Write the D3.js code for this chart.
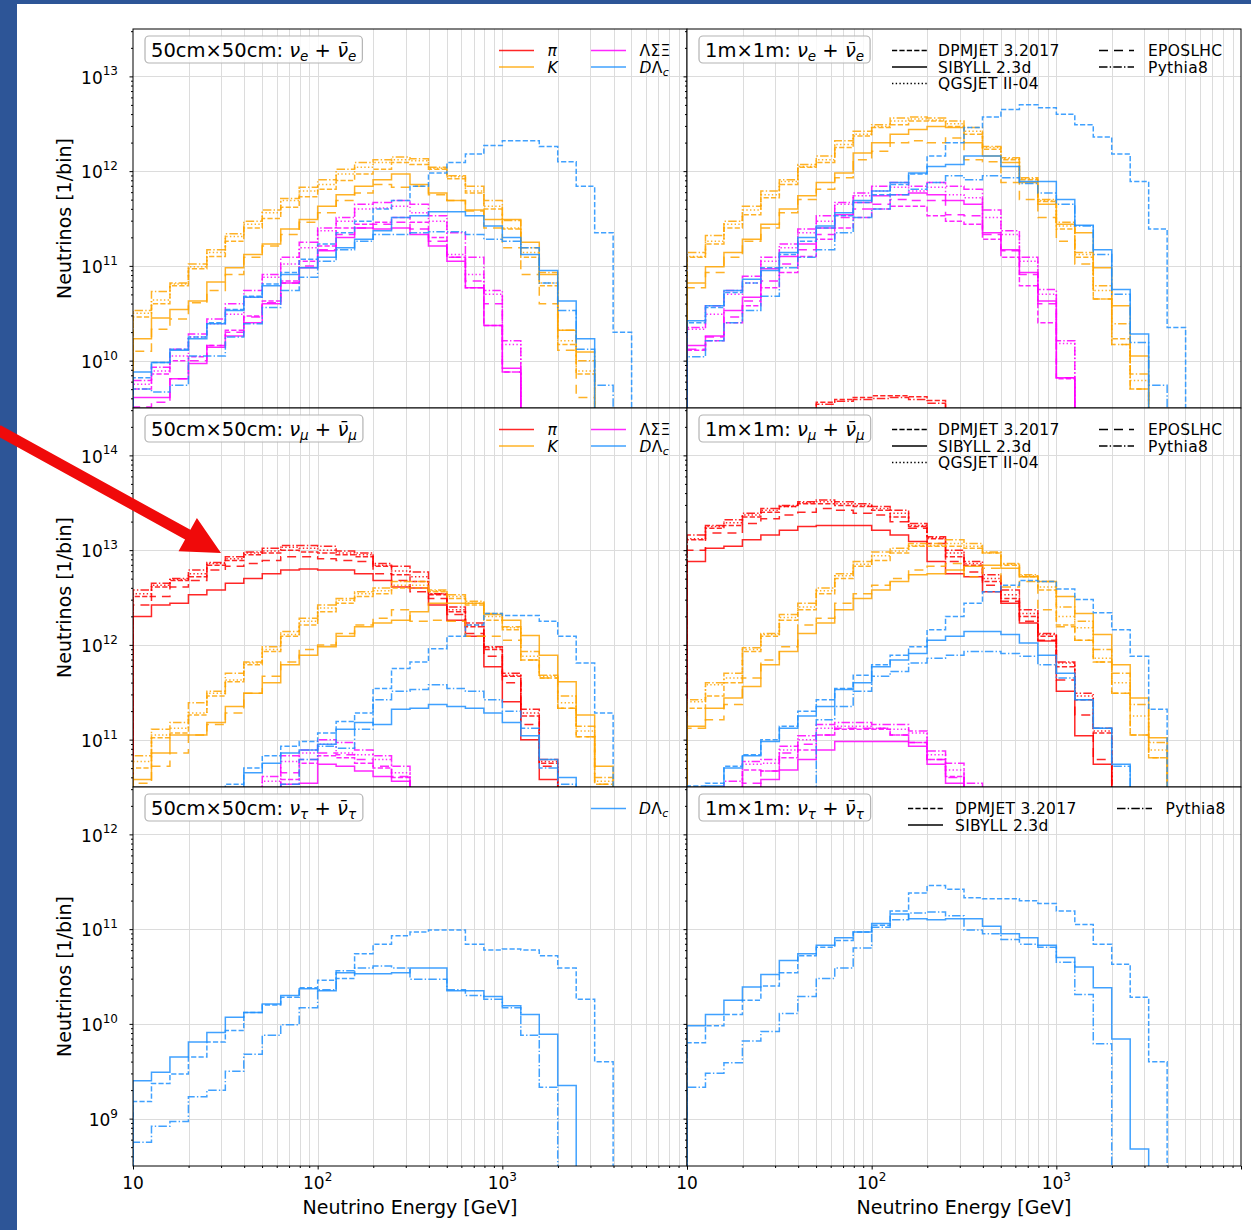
<!DOCTYPE html>
<html><head><meta charset="utf-8">
<script src="https://cdn.jsdelivr.net/npm/d3@7"></script>
<style>
body{margin:0;background:#fff}
svg{display:block}
text{font-family:'DejaVu Sans',sans-serif;fill:#000}
</style>
</head><body>
<svg id="chart" width="1251" height="1230"></svg>
<script>
// ===== DATA: log10(neutrinos per bin), 10 bins per decade starting at 10 GeV; null = empty bin =====
const generators = ['DPMJET 3.2017','SIBYLL 2.3d','QGSJET II-04','EPOSLHC','Pythia8'];
const species = ['π','K','ΛΣΞ','DΛc'];
const xTickLabels = ['10','10^2','10^3'];
const yTickExps = [[10,11,12,13],[11,12,13,14],[9,10,11,12]];

// --- 50cm x 50cm, nu_e ---
const nuE50_K_DPM  = [10.46,10.60,10.79,10.97,11.10,11.26,11.40,11.50,11.62,11.73,11.81,11.90,11.97,12.02,12.09,12.07,12.02,11.92,11.77,11.60,11.39,11.09,10.79,10.17,9.86];
const nuE50_K_SIB  = [10.23,10.45,10.54,10.63,10.83,10.98,11.12,11.23,11.39,11.49,11.63,11.75,11.84,11.91,11.97,11.86,11.77,11.69,11.59,11.49,11.49,11.25,10.91,10.32,10.09];
const nuE50_K_QGS  = [10.50,10.64,10.81,10.99,11.14,11.31,11.44,11.56,11.69,11.79,11.86,11.97,12.04,12.09,12.12,12.11,12.03,11.94,11.79,11.63,11.40,11.14,10.82,10.21,9.89];
const nuE50_K_EPOS = [10.10,10.33,10.44,10.61,10.74,10.91,11.09,11.21,11.33,11.46,11.56,11.69,11.77,11.86,11.83,11.84,11.75,11.69,11.58,11.40,11.19,10.91,10.60,10.11,9.61];
const nuE50_K_P8   = [10.53,10.73,10.82,11.02,11.17,11.34,11.47,11.59,11.71,11.83,11.91,12.02,12.09,12.12,12.15,12.13,12.04,11.95,11.84,11.69,11.48,11.19,10.93,10.32,10.00];
const nuE50_H_DPM  = [9.70,9.86,10.00,10.04,10.16,10.32,10.47,10.63,10.84,11.05,11.21,11.40,11.44,11.46,11.51,11.46,11.30,11.09,10.77,10.37,9.88];
const nuE50_H_SIB  = [9.61,9.61,9.81,9.97,10.14,10.26,10.40,10.60,10.82,10.98,11.16,11.30,11.40,11.39,11.40,11.33,11.21,11.05,10.77,10.37,9.92];
const nuE50_H_QGS  = [9.75,9.89,10.05,10.25,10.39,10.49,10.67,10.88,11.02,11.19,11.37,11.47,11.60,11.61,11.63,11.56,11.47,11.12,10.91,10.70,10.17];
const nuE50_H_EPOS = [9.51,9.56,9.81,10.00,10.16,10.30,10.46,10.61,10.82,11.00,11.17,11.33,11.40,11.44,11.46,11.39,11.26,11.09,10.84,10.60,9.88];
const nuE50_H_P8   = [9.79,9.93,10.12,10.28,10.44,10.60,10.74,10.91,11.09,11.25,11.40,11.51,11.65,11.67,11.69,11.65,11.53,11.35,11.09,10.74,10.21];
const nuE50_C_DPM  = [9.82,9.98,10.12,10.25,10.40,10.54,10.68,10.81,10.93,11.07,11.23,11.35,11.47,11.60,11.69,11.84,11.98,12.09,12.18,12.27,12.32,12.32,12.26,12.10,11.84,11.35,10.30];
const nuE50_C_SIB  = [9.88,9.98,10.11,10.23,10.39,10.53,10.67,10.79,10.91,10.98,11.09,11.19,11.28,11.37,11.51,11.53,11.57,11.57,11.53,11.42,11.30,11.12,10.95,10.63,10.23];
const nuE50_C_P8   = [9.70,9.67,9.74,10.05,10.05,10.25,10.39,10.56,10.74,10.88,11.05,11.17,11.26,11.33,11.33,11.35,11.36,11.36,11.33,11.28,11.26,11.19,10.82,10.53,10.12,9.74];

// --- 1m x 1m, nu_e ---
const nuE100_pi_DPM = [null,null,null,null,null,null,null,9.56,9.59,9.61,9.63,9.63,9.62,9.58];
const nuE100_pi_P8  = [null,null,null,null,null,null,null,9.54,9.57,9.59,9.60,9.61,9.59,9.55];
const nuE100_K_DPM  = [11.09,11.23,11.40,11.54,11.72,11.86,12.04,12.09,12.25,12.37,12.46,12.49,12.53,12.53,12.47,12.39,12.23,12.12,11.91,11.68,11.39,11.09,10.65,10.23,9.70];
const nuE100_K_SIB  = [10.82,10.99,11.14,11.28,11.44,11.60,11.74,11.88,11.98,12.19,12.30,12.39,12.44,12.47,12.46,12.30,12.16,12.09,11.88,11.65,11.44,11.35,10.98,10.58,10.05];
const nuE100_K_QGS  = [11.10,11.26,11.44,11.59,11.75,11.89,12.05,12.12,12.28,12.39,12.47,12.53,12.55,12.54,12.50,12.42,12.25,12.13,11.92,11.69,11.42,11.12,10.74,10.17,9.79];
const nuE100_K_EPOS = [10.77,10.93,11.09,11.26,11.40,11.56,11.70,11.81,11.93,12.12,12.21,12.30,12.32,12.30,12.35,12.12,12.10,11.88,11.70,11.51,11.26,11.02,10.65,10.17,9.70];
const nuE100_K_P8   = [11.14,11.32,11.47,11.63,11.79,11.91,12.07,12.16,12.32,12.42,12.49,12.56,12.57,12.56,12.53,12.46,12.26,12.14,11.93,11.70,11.46,11.14,10.79,10.39,9.86];
const nuE100_H_DPM  = [10.11,10.21,10.40,10.58,10.77,10.93,11.10,11.28,11.40,11.51,11.60,11.63,11.63,11.53,11.47,11.44,11.28,11.09,10.79,10.40,9.81];
const nuE100_H_SIB  = [10.16,10.26,10.53,10.67,10.97,11.10,11.23,11.40,11.54,11.67,11.74,11.75,11.77,11.75,11.69,11.65,11.35,11.17,10.93,10.63,9.82];
const nuE100_H_QGS  = [10.33,10.49,10.70,10.82,11.05,11.19,11.35,11.47,11.65,11.74,11.79,11.83,11.79,11.83,11.75,11.72,11.51,11.33,11.05,10.70,10.18];
const nuE100_H_EPOS = [10.12,10.25,10.46,10.63,10.84,11.02,11.17,11.33,11.51,11.60,11.65,11.70,11.69,11.69,11.54,11.53,11.33,11.16,10.91,10.60,9.82];
const nuE100_H_P8   = [10.35,10.58,10.74,10.89,11.09,11.23,11.39,11.53,11.67,11.77,11.84,11.88,11.84,11.88,11.84,11.81,11.59,11.37,11.09,10.75,10.21];
const nuE100_C_DPM  = [10.40,10.56,10.72,10.82,10.98,11.12,11.26,11.40,11.53,11.67,11.75,11.86,11.97,12.16,12.30,12.46,12.57,12.65,12.70,12.67,12.60,12.49,12.36,12.18,11.89,11.39,10.35];
const nuE100_C_SIB  = [10.42,10.58,10.74,10.86,10.95,11.14,11.30,11.42,11.56,11.69,11.79,11.88,11.98,12.05,12.07,12.16,12.16,12.05,11.89,11.89,11.70,11.43,11.17,10.75,10.28];
const nuE100_C_P8   = [10.04,10.21,10.40,10.53,10.68,10.98,11.09,11.17,11.35,11.51,11.60,11.75,11.81,11.88,11.95,11.91,11.95,11.93,11.87,11.77,11.65,11.42,11.12,10.70,10.19,9.74];

// --- 50cm x 50cm, nu_mu ---
const nuMu50_pi_DPM  = [12.51,12.61,12.68,12.72,12.84,12.89,12.95,12.97,13.00,12.98,12.97,12.95,12.93,12.83,12.74,12.67,12.53,12.35,12.19,11.95,11.67,11.25,10.75];
const nuMu50_pi_SIB  = [12.30,12.42,12.44,12.53,12.58,12.65,12.70,12.75,12.79,12.80,12.79,12.79,12.75,12.68,12.61,12.60,12.42,12.26,12.09,11.77,11.40,11.00,10.58];
const nuMu50_pi_QGS  = [12.54,12.63,12.69,12.75,12.86,12.91,12.97,12.99,13.03,13.02,13.00,12.97,12.95,12.84,12.78,12.72,12.54,12.37,12.21,11.97,11.68,11.28,10.77];
const nuMu50_pi_EPOS = [12.42,12.51,12.61,12.68,12.79,12.83,12.86,12.89,12.93,12.93,12.91,12.89,12.88,12.75,12.68,12.56,12.49,12.32,12.12,11.88,11.60,11.16,10.72];
const nuMu50_pi_P8   = [12.58,12.65,12.70,12.79,12.87,12.93,12.98,13.02,13.05,13.05,13.04,12.99,12.97,12.86,12.83,12.77,12.54,12.40,12.23,11.98,11.70,11.32,10.79];
const nuMu50_K_DPM  = [10.70,11.02,11.07,11.26,11.46,11.61,11.79,11.93,12.09,12.21,12.35,12.44,12.51,12.54,12.60,12.60,12.56,12.49,12.42,12.26,12.16,11.84,11.65,11.33,11.03,10.53];
const nuMu50_K_SIB  = [10.58,10.86,11.05,11.05,11.18,11.35,11.49,11.60,11.79,11.89,11.98,12.09,12.19,12.23,12.26,12.35,12.44,12.44,12.44,12.32,12.26,12.10,11.89,11.61,11.26,10.72];
const nuMu50_K_QGS  = [10.77,11.05,11.12,11.28,11.49,11.63,11.81,11.95,12.11,12.25,12.39,12.47,12.54,12.57,12.63,12.63,12.57,12.51,12.44,12.30,12.18,11.88,11.67,11.39,11.09,10.56];
const nuMu50_K_EPOS = [10.54,10.72,10.86,11.05,11.16,11.28,11.49,11.67,11.82,11.95,12.00,12.12,12.21,12.28,12.37,12.25,12.26,12.25,12.09,12.09,12.05,11.84,11.65,11.33,11.03,10.53];
const nuMu50_K_P8   = [10.83,11.11,11.18,11.39,11.51,11.70,11.82,11.98,12.14,12.28,12.42,12.49,12.56,12.60,12.67,12.67,12.58,12.53,12.46,12.33,12.19,11.93,11.68,11.46,11.14,10.60];
const nuMu50_H_DPM  = [null,null,null,null,null,null,null,null,10.58,10.75,10.83,10.81,10.75,10.70,10.60];
const nuMu50_H_SIB  = [null,null,null,null,null,null,null,null,10.53,10.54,10.74,10.72,10.67,10.61,10.56];
const nuMu50_H_QGS  = [null,null,null,null,null,null,null,10.56,10.77,10.86,10.95,10.86,10.84,10.79,10.65];
const nuMu50_H_EPOS = [null,null,null,null,null,null,null,null,10.65,10.79,10.86,10.84,10.79,10.72,10.61];
const nuMu50_H_P8   = [null,null,null,null,null,null,null,10.61,10.83,10.89,11.00,10.97,10.89,10.83,10.72];
const nuMu50_C_DPM  = [null,null,null,null,null,10.53,10.70,10.83,10.93,10.98,11.07,11.19,11.28,11.54,11.75,11.82,11.96,12.09,12.21,12.33,12.31,12.31,12.25,12.09,11.81,11.28];
const nuMu50_C_SIB  = [null,null,null,null,null,null,10.65,10.75,10.86,10.89,10.95,11.11,11.18,11.16,11.32,11.33,11.37,11.35,11.33,11.28,11.18,11.04,10.79,10.60];
const nuMu50_C_P8   = [null,null,null,null,null,null,null,null,10.53,10.79,10.93,10.91,11.11,11.42,11.51,11.53,11.58,11.54,11.51,11.42,11.30,11.12,10.70,10.53];

// --- 1m x 1m, nu_mu ---
const nuMu100_pi_DPM  = [13.11,13.23,13.26,13.35,13.40,13.46,13.49,13.49,13.47,13.46,13.42,13.35,13.25,13.12,12.93,12.84,12.67,12.49,12.30,12.09,11.77,11.42,11.07];
const nuMu100_pi_SIB  = [12.88,13.02,13.04,13.11,13.16,13.21,13.25,13.26,13.26,13.26,13.21,13.16,13.09,12.88,12.75,12.72,12.56,12.44,12.23,12.04,11.51,11.04,10.74];
const nuMu100_pi_QGS  = [13.12,13.25,13.29,13.37,13.42,13.46,13.50,13.51,13.49,13.47,13.44,13.39,13.26,13.13,12.97,12.86,12.70,12.53,12.33,12.11,11.81,11.46,11.09];
const nuMu100_pi_EPOS = [13.00,13.18,13.18,13.28,13.33,13.37,13.40,13.44,13.42,13.39,13.37,13.30,13.23,13.07,12.88,12.77,12.63,12.46,12.25,12.05,11.63,11.26,10.79];
const nuMu100_pi_P8   = [13.16,13.26,13.32,13.39,13.44,13.47,13.51,13.53,13.51,13.49,13.46,13.42,13.28,13.14,13.00,12.88,12.74,12.58,12.37,12.12,11.82,11.49,11.12];
const nuMu100_K_DPM  = [11.33,11.46,11.60,11.93,12.09,12.26,12.37,12.54,12.70,12.83,12.89,12.97,13.04,13.04,13.04,13.02,12.97,12.84,12.72,12.58,12.21,12.05,11.82,11.49,11.05,10.81];
const nuMu100_K_SIB  = [11.14,11.33,11.44,11.56,11.79,11.93,12.12,12.23,12.37,12.49,12.58,12.67,12.74,12.75,12.79,12.83,12.84,12.81,12.72,12.67,12.51,12.33,12.11,11.79,11.44,11.02];
const nuMu100_K_QGS  = [11.40,11.58,11.65,11.95,12.11,12.29,12.40,12.57,12.73,12.85,12.94,12.99,13.05,13.05,13.07,13.04,12.97,12.85,12.73,12.61,12.30,12.18,11.86,11.60,11.25,10.89];
const nuMu100_K_EPOS = [11.12,11.21,11.37,11.65,11.84,11.98,12.21,12.28,12.44,12.54,12.63,12.70,12.79,12.83,12.86,12.72,12.81,12.61,12.67,12.37,12.19,12.05,11.82,11.49,11.05,10.81];
const nuMu100_K_P8   = [11.42,11.60,11.70,11.97,12.12,12.32,12.44,12.60,12.75,12.88,12.98,13.02,13.07,13.07,13.11,13.07,12.98,12.86,12.74,12.67,12.40,12.25,11.95,11.70,11.37,10.97];
const nuMu100_H_DPM  = [null,null,null,10.68,10.67,10.81,10.89,11.05,11.11,11.11,11.11,11.05,10.97,10.79,10.61];
const nuMu100_H_SIB  = [null,null,null,null,10.58,10.68,10.79,10.89,10.98,10.98,10.98,10.98,10.93,10.74,10.54];
const nuMu100_H_QGS  = [null,null,null,10.74,10.75,10.89,11.00,11.12,11.14,11.14,11.12,11.11,11.07,10.84,10.68];
const nuMu100_H_EPOS = [null,null,null,10.54,10.67,10.86,10.95,11.05,11.12,11.12,11.12,11.05,10.97,10.79,10.60];
const nuMu100_H_P8   = [null,null,10.56,10.77,10.79,10.93,11.04,11.16,11.18,11.18,11.16,11.16,11.09,10.88,10.75,10.54];
const nuMu100_C_DPM  = [10.51,10.54,10.72,10.84,11.00,11.14,11.30,11.42,11.54,11.68,11.79,11.89,11.98,12.16,12.30,12.44,12.56,12.63,12.68,12.67,12.59,12.48,12.34,12.16,11.88,11.32];
const nuMu100_C_SIB  = [null,10.51,10.70,10.83,10.98,11.12,11.25,11.35,11.53,11.60,11.77,11.84,11.91,12.05,12.09,12.14,12.14,12.11,12.02,11.89,11.70,11.42,11.12,10.74];
const nuMu100_C_P8   = [null,null,null,null,null,null,null,11.21,11.35,11.51,11.67,11.72,11.81,11.86,11.89,11.93,11.93,11.91,11.88,11.79,11.65,11.42,11.12,10.72];

// --- nu_tau (charm only) ---
const nuTau50_C_DPM  = [9.18,9.37,9.47,9.65,9.81,9.93,10.12,10.20,10.28,10.38,10.46,10.48,10.74,10.84,10.93,10.97,10.99,10.99,10.84,10.78,10.79,10.78,10.72,10.59,10.26,9.60];
const nuTau50_C_SIB  = [9.40,9.49,9.65,9.81,9.91,10.07,10.12,10.21,10.30,10.37,10.35,10.54,10.53,10.53,10.54,10.59,10.59,10.35,10.35,10.29,10.19,10.10,9.89,9.35];
const nuTau50_C_P8   = [8.75,8.92,8.97,9.23,9.30,9.50,9.68,9.88,9.99,10.17,10.36,10.56,10.59,10.61,10.59,10.47,10.47,10.36,10.30,10.26,10.17,9.88,9.33];
const nuTau100_C_DPM = [9.80,9.98,10.10,10.25,10.40,10.54,10.72,10.81,10.88,10.97,11.04,11.19,11.38,11.46,11.42,11.33,11.32,11.32,11.30,11.27,11.19,11.05,10.84,10.63,10.28,9.60];
const nuTau100_C_SIB = [9.98,10.10,10.25,10.39,10.52,10.67,10.74,10.83,10.91,10.97,11.06,11.16,11.11,11.10,11.11,11.11,11.03,10.95,10.91,10.83,10.70,10.60,10.38,9.84,8.68];
const nuTau100_C_P8  = [9.33,9.48,9.59,9.82,9.92,10.11,10.29,10.48,10.59,10.80,11.02,11.10,11.17,11.18,11.14,10.99,10.95,10.89,10.84,10.81,10.65,10.31,9.79];

// ===== STYLE / LAYOUT =====
const colX = [133, 687], PW = 554;
const rowY = [29, 408, 787], PH = 379;
const yDomains = [[10**9.5, 10**13.5], [10**10.5, 10**14.5], [10**8.5, 10**12.5]];
const binEdges = d3.range(31).map(k => 10 ** (1 + k / 10));
const color = {pi:'#ff0000', K:'#ffa500', H:'#ff00ff', C:'#1e90ff'};
const dash = {DPM:'5.2,2.2', SIB:null, QGS:'1.4,2.3', EPOS:'9,6', P8:'8.5,2.2,1.4,2.2'};
const genKey = ['DPM','SIB','QGS','EPOS','P8'];

const panels = [
  {row:0,col:0, box:['50cm×50cm: ','ν','e'], leg:'species', series:[
    ['K','DPM',nuE50_K_DPM],['K','SIB',nuE50_K_SIB],['K','QGS',nuE50_K_QGS],['K','EPOS',nuE50_K_EPOS],['K','P8',nuE50_K_P8],
    ['H','DPM',nuE50_H_DPM],['H','SIB',nuE50_H_SIB],['H','QGS',nuE50_H_QGS],['H','EPOS',nuE50_H_EPOS],['H','P8',nuE50_H_P8],
    ['C','DPM',nuE50_C_DPM],['C','SIB',nuE50_C_SIB],['C','P8',nuE50_C_P8]]},
  {row:0,col:1, box:['1m×1m: ','ν','e'], leg:'gen5', series:[
    ['pi','DPM',nuE100_pi_DPM],['pi','P8',nuE100_pi_P8],
    ['K','DPM',nuE100_K_DPM],['K','SIB',nuE100_K_SIB],['K','QGS',nuE100_K_QGS],['K','EPOS',nuE100_K_EPOS],['K','P8',nuE100_K_P8],
    ['H','DPM',nuE100_H_DPM],['H','SIB',nuE100_H_SIB],['H','QGS',nuE100_H_QGS],['H','EPOS',nuE100_H_EPOS],['H','P8',nuE100_H_P8],
    ['C','DPM',nuE100_C_DPM],['C','SIB',nuE100_C_SIB],['C','P8',nuE100_C_P8]]},
  {row:1,col:0, box:['50cm×50cm: ','ν','μ'], leg:'species', series:[
    ['pi','DPM',nuMu50_pi_DPM],['pi','SIB',nuMu50_pi_SIB],['pi','QGS',nuMu50_pi_QGS],['pi','EPOS',nuMu50_pi_EPOS],['pi','P8',nuMu50_pi_P8],
    ['K','DPM',nuMu50_K_DPM],['K','SIB',nuMu50_K_SIB],['K','QGS',nuMu50_K_QGS],['K','EPOS',nuMu50_K_EPOS],['K','P8',nuMu50_K_P8],
    ['H','DPM',nuMu50_H_DPM],['H','SIB',nuMu50_H_SIB],['H','QGS',nuMu50_H_QGS],['H','EPOS',nuMu50_H_EPOS],['H','P8',nuMu50_H_P8],
    ['C','DPM',nuMu50_C_DPM],['C','SIB',nuMu50_C_SIB],['C','P8',nuMu50_C_P8]]},
  {row:1,col:1, box:['1m×1m: ','ν','μ'], leg:'gen5', series:[
    ['pi','DPM',nuMu100_pi_DPM],['pi','SIB',nuMu100_pi_SIB],['pi','QGS',nuMu100_pi_QGS],['pi','EPOS',nuMu100_pi_EPOS],['pi','P8',nuMu100_pi_P8],
    ['K','DPM',nuMu100_K_DPM],['K','SIB',nuMu100_K_SIB],['K','QGS',nuMu100_K_QGS],['K','EPOS',nuMu100_K_EPOS],['K','P8',nuMu100_K_P8],
    ['H','DPM',nuMu100_H_DPM],['H','SIB',nuMu100_H_SIB],['H','QGS',nuMu100_H_QGS],['H','EPOS',nuMu100_H_EPOS],['H','P8',nuMu100_H_P8],
    ['C','DPM',nuMu100_C_DPM],['C','SIB',nuMu100_C_SIB],['C','P8',nuMu100_C_P8]]},
  {row:2,col:0, box:['50cm×50cm: ','ν','τ'], leg:'charm', series:[
    ['C','DPM',nuTau50_C_DPM],['C','SIB',nuTau50_C_SIB],['C','P8',nuTau50_C_P8]]},
  {row:2,col:1, box:['1m×1m: ','ν','τ'], leg:'gen3', series:[
    ['C','DPM',nuTau100_C_DPM],['C','SIB',nuTau100_C_SIB],['C','P8',nuTau100_C_P8]]}
];

const svg = d3.select('#chart');
svg.append('rect').attr('width',1251).attr('height',1230).attr('fill','#fff');
svg.append('rect').attr('x',0).attr('y',0).attr('width',1251).attr('height',4).attr('fill','#2d5597');
svg.append('rect').attr('x',0).attr('y',0).attr('width',17).attr('height',1230).attr('fill','#2d5597');
const defs = svg.append('defs');

function minorTicks(lo, hi) {
  const out = [];
  for (let e = Math.floor(Math.log10(lo)); e <= Math.ceil(Math.log10(hi)); e++)
    for (let m = 2; m <= 9; m++) { const v = m * 10 ** e; if (v > lo && v < hi) out.push(v); }
  return out;
}
function majorTicks(lo, hi) {
  const out = [];
  for (let e = Math.ceil(Math.log10(lo) - 1e-9); 10 ** e <= hi * 1.0000001; e++) out.push(10 ** e);
  return out;
}

function addSubText(t, parts) {
  parts.forEach(p => {
    const ts = t.append('tspan').text(p.t);
    if (p.it) ts.attr('font-style','italic');
    if (p.fs) ts.attr('font-size', p.fs);
    if (p.dy) ts.attr('dy', p.dy);
  });
}

function drawPanel(p, idx) {
  const x0 = colX[p.col], y0 = rowY[p.row];
  const x = d3.scaleLog().domain([10, 1e4]).range([x0, x0 + PW]);
  const y = d3.scaleLog().domain(yDomains[p.row]).range([y0 + PH, y0]);
  const g = svg.append('g');
  g.append('rect').attr('x',x0).attr('y',y0).attr('width',PW).attr('height',PH).attr('fill','#fff');
  const cid = 'clip' + idx;
  defs.append('clipPath').attr('id',cid).append('rect').attr('x',x0).attr('y',y0).attr('width',PW).attr('height',PH);

  // grid
  const grid = g.append('g').attr('stroke','#dcdcdc').attr('stroke-width',1);
  const gx = majorTicks(10, 1e4).concat(minorTicks(10, 1e4)).filter(v => v > 10 && v < 1e4);
  grid.selectAll('line.v').data(gx).join('line')
    .attr('x1', d => Math.round(x(d)) + 0.5).attr('x2', d => Math.round(x(d)) + 0.5)
    .attr('y1', y0).attr('y2', y0 + PH);
  const [ylo, yhi] = yDomains[p.row];
  const gy = majorTicks(ylo, yhi);
  grid.selectAll('line.h').data(gy).join('line')
    .attr('x1', x0).attr('x2', x0 + PW)
    .attr('y1', d => Math.round(y(d)) + 0.5).attr('y2', d => Math.round(y(d)) + 0.5);

  // series
  const floorV = 1e3;
  const line = d3.line().x(d => x(d[0])).y(d => y(d[1])).curve(d3.curveStepAfter);
  const sg = g.append('g').attr('clip-path', `url(#${cid})`);
  p.series.forEach(([sp, gen, vals]) => {
    const pts = [[binEdges[0], floorV]];
    vals.forEach((v, i) => pts.push([binEdges[i], v == null ? floorV : 10 ** v]));
    pts.push([binEdges[vals.length], floorV]);
    const path = sg.append('path').attr('d', line(pts)).attr('fill','none')
      .attr('stroke', color[sp]).attr('stroke-width', 1.5).attr('stroke-opacity', 0.85);
    if (dash[gen]) path.attr('stroke-dasharray', dash[gen]);
  });

  // frame
  g.append('rect').attr('x',x0).attr('y',y0).attr('width',PW).attr('height',PH)
    .attr('fill','none').attr('stroke','#000').attr('stroke-width',1);

  // y ticks (left spine)
  const ax = g.append('g');
  ax.append('g').attr('transform', `translate(${x0},0)`)
    .call(d3.axisLeft(y).tickValues(gy).tickSize(3.5).tickFormat(''))
    .call(s => s.select('.domain').remove());
  ax.append('g').attr('transform', `translate(${x0},0)`)
    .call(d3.axisLeft(y).tickValues(minorTicks(ylo, yhi)).tickSize(2).tickFormat(''))
    .call(s => s.select('.domain').remove());
  if (p.col === 0) {
    yTickExps[p.row].forEach(e => {
      const t = g.append('text').attr('x', x0 - 15).attr('y', y(10 ** e) + 7.3)
        .attr('text-anchor','end').attr('font-size', 17);
      t.append('tspan').text('10');
      t.append('tspan').attr('font-size', 12).attr('dy', -8.3).text(String(e));
    });
    g.append('text').attr('transform', `translate(${x0 - 62},${y0 + PH / 2}) rotate(-90)`)
      .attr('text-anchor','middle').attr('font-size', 19).text('Neutrinos [1/bin]');
  }
  if (p.row === 2) {
    const xb = y0 + PH;
    ax.append('g').attr('transform', `translate(0,${xb})`)
      .call(d3.axisBottom(x).tickValues(majorTicks(10, 1e4)).tickSize(3.5).tickFormat(''))
      .call(s => s.select('.domain').remove());
    ax.append('g').attr('transform', `translate(0,${xb})`)
      .call(d3.axisBottom(x).tickValues(minorTicks(10, 1e4)).tickSize(2).tickFormat(''))
      .call(s => s.select('.domain').remove());
    xTickLabels.forEach((lab, i) => {
      const t = g.append('text').attr('x', x(10 ** (i + 1))).attr('y', xb + 23)
        .attr('text-anchor','middle').attr('font-size', 17);
      const [b, sup] = lab.split('^');
      t.append('tspan').text(b);
      if (sup) t.append('tspan').attr('font-size', 12).attr('dy', -8).text(sup);
    });
    g.append('text').attr('x', x0 + PW / 2).attr('y', xb + 48).attr('text-anchor','middle')
      .attr('font-size', 19).text('Neutrino Energy [GeV]');
  }

  // title box
  const tb = g.append('g');
  const t = tb.append('text').attr('x', x0 + 18).attr('y', y0 + 27.5).attr('font-size', 19.5);
  const [pre, sym, sub] = p.box;
  addSubText(t, [
    {t: pre}, {t: sym, it: true}, {t: sub, it: true, fs: 13.5, dy: 4},
    {t: ' + ', dy: -4}, {t: sym + '\u0304', it: true}, {t: sub, it: true, fs: 13.5, dy: 4}
  ]);
  const bb = t.node().getBBox();
  tb.insert('rect', 'text').attr('x', x0 + 12).attr('y', y0 + 7).attr('width', bb.width + 12)
    .attr('height', 27).attr('rx', 4).attr('fill','#fff').attr('fill-opacity', 0.8)
    .attr('stroke','#b3b3b3').attr('stroke-width', 1.2);

  // legends
  const lg = g.append('g');
  const rowsY = [y0 + 21.5, y0 + 38, y0 + 54.5];
  function legLine(xa, yy, col, dsh) {
    const l = lg.append('line').attr('x1', xa).attr('x2', xa + 35).attr('y1', yy).attr('y2', yy)
      .attr('stroke', col).attr('stroke-width', 1.4);
    if (dsh) l.attr('stroke-dasharray', dsh);
    if (col !== '#000') l.attr('stroke-opacity', 0.85);
  }
  function legText(xa, yy, parts) {
    const tt = lg.append('text').attr('x', xa).attr('y', yy + 5.5).attr('font-size', 15.5)
      .attr('letter-spacing', 0.3);
    addSubText(tt, parts);
  }
  const spParts = {
    pi: [{t:'π', it:true}], K: [{t:'K', it:true}], H: [{t:'ΛΣΞ'}],
    C: [{t:'D', it:true}, {t:'Λ'}, {t:'c', it:true, fs:11, dy:3}]
  };
  if (p.leg === 'species') {
    [['pi',0,0],['K',0,1],['H',1,0],['C',1,1]].forEach(([k, c, r]) => {
      legLine(x0 + 366 + c * 92, rowsY[r], color[k], null);
      legText(x0 + 414.5 + c * 92, rowsY[r], spParts[k]);
    });
  } else if (p.leg === 'charm') {
    legLine(x0 + 458, rowsY[0], color.C, null);
    legText(x0 + 506, rowsY[0], spParts.C);
  } else if (p.leg === 'gen5') {
    [[0,0,0],[1,0,1],[2,0,2],[3,1,0],[4,1,1]].forEach(([gi, c, r]) => {
      legLine(x0 + 205 + c * 207, rowsY[r], '#000', dash[genKey[gi]]);
      legText(x0 + 251 + c * 210, rowsY[r], [{t: generators[gi]}]);
    });
  } else if (p.leg === 'gen3') {
    [[0,0,0],[1,0,1],[4,1,0]].forEach(([gi, c, r]) => {
      legLine(x0 + 221 + c * 209, rowsY[r], '#000', dash[genKey[gi]]);
      legText(x0 + 268 + c * 210.5, rowsY[r], [{t: generators[gi]}]);
    });
  }
}

panels.forEach(drawPanel);

// red annotation arrow
(function () {
  const tail = [-2, 430], tip = [221, 553];
  const dx = tip[0] - tail[0], dy = tip[1] - tail[1], L = Math.hypot(dx, dy);
  const u = [dx / L, dy / L], n = [-u[1], u[0]];
  const hl = 38, hw = 19, sw = 5.5;
  const bc = [tip[0] - hl * u[0], tip[1] - hl * u[1]];
  const P = (p, k) => [p[0] + k * n[0], p[1] + k * n[1]];
  const pts = [P(tail, -sw), P(bc, -sw), P(bc, -hw), tip, P(bc, hw), P(bc, sw), P(tail, sw)];
  svg.append('polygon').attr('points', pts.map(q => q.join(',')).join(' ')).attr('fill', '#f00a0a');
})();
</script>
</body></html>
